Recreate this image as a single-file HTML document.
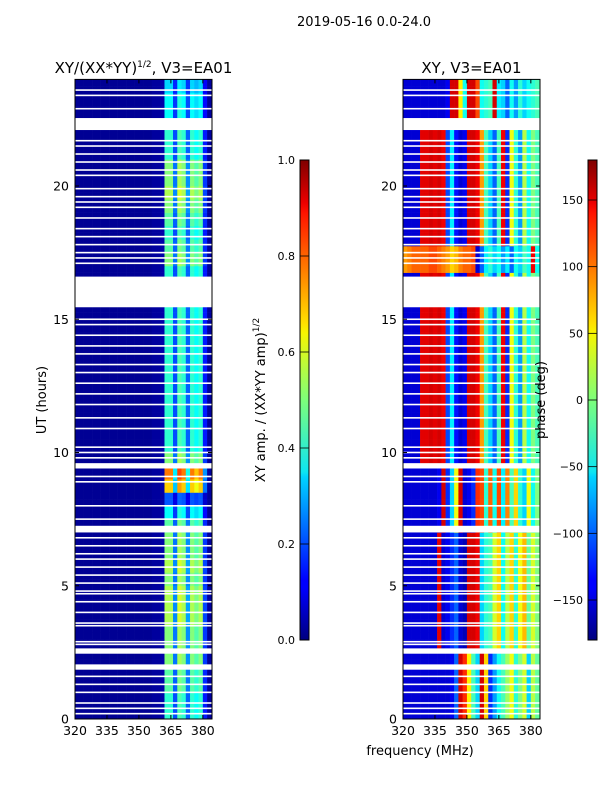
<!DOCTYPE html>
<html><head><meta charset="utf-8">
<style>
body{margin:0;background:#fff;width:600px;height:800px;overflow:hidden;font-family:"Liberation Sans","DejaVu Sans",sans-serif;}
svg text{font-family:"DejaVu Sans","Liberation Sans",sans-serif;}
</style></head>
<body>
<svg id="fig" width="600" height="800" xmlns="http://www.w3.org/2000/svg">
<defs>
<linearGradient id="jet" x1="0" y1="1" x2="0" y2="0">
<stop offset="0" stop-color="#00007f"/><stop offset="0.11" stop-color="#0000ff"/><stop offset="0.125" stop-color="#0000ff"/>
<stop offset="0.34" stop-color="#00d4ff"/><stop offset="0.35" stop-color="#0de5f2"/><stop offset="0.5" stop-color="#7dff7a"/>
<stop offset="0.64" stop-color="#f7f500"/><stop offset="0.66" stop-color="#ffe000"/><stop offset="0.89" stop-color="#ff1300"/>
<stop offset="0.91" stop-color="#ed0000"/><stop offset="1" stop-color="#7f0000"/>
</linearGradient>
</defs>
<text x="364" y="26" font-size="13" text-anchor="middle">2019-05-16 0.0-24.0</text>
<g id="amp"></g>
<g id="phs"></g>
<g id="axes"></g>
</svg>
<script>
const freqBins=[320,322,324,326,328,330,332,334,336,338,340,342,344,346,348,350,352,354,356,358,360,362,364,366,368,370,372,374,376,378,380,382];
const ampCols=[0.02,0.02,0.02,0.02,0.02,0.02,0.02,0.02,0.02,0.02,0.02,0.02,0.02,0.02,0.02,0.02,0.02,0.02,0.03,0.03,0.04,0.42,0.42,0.2,0.45,0.42,0.22,0.42,0.38,0.42,0.15,0.03];
const ampRowMod=[1.0,1.0,1.1,1.1,1.2,1.2,1.2,1.3,1.3,1.3,1.2,1.3,1.2,1.2,1.1,0.9,0.5,1.6,1.8,1.2,1.0,1.0,1.0,1.0,1.0,1.0,1.0,1.0,1.0,1.0,1.0,1.0,1.0,1.0,1.2,1.1,1.0,1.1,1.2,1.3,1.2,1.2,1.0,1.0,1.0,0.9,0.9,0.8];
const phaseSegStart=[0,2.5,7.0,9.5,16.6,17.6,22.5];
const phaseSegs=[
[-150,-150,-150,-150,-150,-150,-150,-150,-150,-150,-150,-140,-100,150,120,50,-20,-60,150,60,-120,-80,-40,-20,10,40,-30,0,30,-60,20,-10],
[-150,-150,-150,-150,-150,-150,-150,-150,145,-150,-140,-120,-100,-150,-160,150,150,140,-60,-30,-20,30,60,-40,20,60,-30,40,70,-10,30,0],
[-150,-150,-150,-150,-150,-150,-150,-150,-140,150,-120,-60,40,150,-150,-140,-120,120,110,-30,100,-40,110,-50,90,-20,60,-30,-60,40,-40,0],
[-150,-150,-150,-150,145,145,150,145,150,140,-110,-50,-130,-150,-140,150,150,140,80,-20,-60,-100,-20,140,-120,40,-30,-80,20,-40,0,-20],
[80,90,100,100,100,100,110,110,100,90,80,60,70,90,100,100,110,-150,-100,-50,-30,-60,-40,-80,-50,-100,-40,-60,-20,-40,140,-40],
[-150,-150,-150,-150,145,145,150,145,150,140,-110,-50,-130,-150,-140,150,150,140,80,-20,-60,-100,-20,140,-120,40,-30,-80,20,-40,0,-20],
[-150,-150,-150,-150,-150,-150,-150,-150,-150,-150,-140,150,150,50,-40,150,150,110,-40,-30,-20,150,-50,-60,-100,-40,-80,-30,-60,-40,-30,-20]];
const flagStart=[22.1,15.45,9.4,7.0,2.45,1.85];
const flagEnd=[22.55,16.6,9.6,7.25,2.65,2.05];
const thinFlags=[23.6,23.4,22.9,21.7,21.5,21.2,20.9,20.6,20.4,19.9,19.6,19.4,19.2,18.8,18.4,18.1,17.8,17.5,17.3,17.1,15.0,14.8,14.4,14.0,13.7,13.3,13.0,12.6,12.2,11.8,11.3,10.9,10.2,10.0,9.8,9.1,8.9,8.0,7.5,6.8,6.5,6.2,6.0,5.7,5.4,5.1,4.8,4.7,4.4,4.0,3.6,3.5,2.9,2.8,1.6,1.3,1.0,0.6,0.4,0.2];
const yTicks=[0,5,10,15,20];
const xTicks=[320,335,350,365,380];
const ampTicks=[0.0,0.2,0.4,0.6,0.8,1.0];
const phTicks=[-150,-100,-50,0,50,100,150];

const NS="http://www.w3.org/2000/svg";
function jet(v){v=Math.max(0,Math.min(1,v));
 const r=Math.min(4*v-1.5,-4*v+4.5),g=Math.min(4*v-0.5,-4*v+3.5),b=Math.min(4*v+0.5,-4*v+2.5);
 const c=x=>Math.round(255*Math.max(0,Math.min(1,x)));return `rgb(${c(r)},${c(g)},${c(b)})`;}
function mk(parent,tag,attrs){const e=document.createElementNS(NS,tag);for(const k in attrs)e.setAttribute(k,attrs[k]);parent.appendChild(e);return e;}
const Y0=719,Y1=79.4,H=24;
const yS=h=>Y0-(h/H)*(Y0-Y1);
function xS(px,f){return px+(f-320)*(137/64.3);}
function segIdx(h){let s=0;for(let i=0;i<phaseSegStart.length;i++)if(h>=phaseSegStart[i])s=i;return s;}
function drawMap(g,px,valFn){
 for(let r=0;r<96;r++){const h0=r*0.25,h1=h0+0.25;
  for(let c=0;c<freqBins.length;c++){
   const rc=mk(g,'rect',{x:xS(px,freqBins[c]).toFixed(2),y:yS(h1).toFixed(2),width:(137/64.3*2+0.3).toFixed(2),height:(yS(h0)-yS(h1)+0.3).toFixed(2),fill:valFn(r,c,h0)});
   
   
  }}
 for(let i=0;i<flagStart.length;i++){
  const f=mk(g,'rect',{x:px,y:yS(flagEnd[i]),width:137,height:yS(flagStart[i])-yS(flagEnd[i]),fill:'#fff'});
  
  
 }
 for(let i=0;i<thinFlags.length;i++){
  const f=mk(g,'rect',{x:px,y:yS(thinFlags[i])-0.8,width:137,height:1.6,fill:'#fff'});
  
  
 }
}
drawMap(document.getElementById('amp'),75,(r,c,h)=>{const m=ampRowMod[Math.min(47,Math.floor(h*2))];const base=ampCols[c];return jet(base<0.1?base:base*m);});
drawMap(document.getElementById('phs'),403,(r,c,h)=>jet((phaseSegs[segIdx(h)][c]+180)/360));

const ax=document.getElementById('axes');
function txt(x,y,s,attrs){const t=mk(ax,'text',Object.assign({x:x,y:y,'font-size':12.5},attrs||{}));t.textContent=s;return t;}
function panel(px,title,name){
 const fr=mk(ax,'rect',{x:px,y:Y1,width:137,height:Y0-Y1,fill:'none',stroke:'#000','stroke-width':1});
 
 
 for(const t of yTicks){const y=yS(t);
  mk(ax,'line',{x1:px,x2:px+4,y1:y,y2:y,stroke:'#000'});mk(ax,'line',{x1:px+137,x2:px+133,y1:y,y2:y,stroke:'#000'});
  const l=txt(px-6,y+4.5,String(t),{'text-anchor':'end'});
  
  }
 for(const t of xTicks){const x=xS(px,t);
  mk(ax,'line',{x1:x,x2:x,y1:Y0,y2:Y0-4,stroke:'#000'});mk(ax,'line',{x1:x,x2:x,y1:Y1,y2:Y1+4,stroke:'#000'});
  const l=txt(x,Y0+16,String(t),{'text-anchor':'middle'});
  
  }
 const tt=mk(ax,'text',{x:px+68.5,y:73,'font-size':15,'text-anchor':'middle'});tt.innerHTML=title;
 
 
}
panel(75,'XY/(XX*YY)<tspan font-size="9" dy="-6">1/2</tspan><tspan dy="6">, V3=EA01</tspan>','amplitude-panel');
panel(403,'XY, V3=EA01','phase-panel');
function cbar(x,ticks,lo,hi,fmt,name){
 const r=mk(ax,'rect',{x:x,y:160,width:9,height:480,fill:'url(#jet)',stroke:'#000','stroke-width':1});
 
 
 for(const t of ticks){const y=640-(t-lo)/(hi-lo)*480;
  mk(ax,'line',{x1:x,x2:x+9,y1:y,y2:y,stroke:'#000','stroke-width':0.8});
  const l=txt(x-5,y+4,fmt(t),{'text-anchor':'end','font-size':11});
  
  }
}
cbar(300,ampTicks,0,1,t=>t.toFixed(1),'amplitude-colorbar');
cbar(588,phTicks,-180,180,t=>(t<0?'\u2212'+(-t):String(t)),'phase-colorbar');
let l=txt(46,400,'UT (hours)',{'text-anchor':'middle','transform':'rotate(-90 46 400)','font-size':13});


l=txt(420,755,'frequency (MHz)',{'text-anchor':'middle','font-size':13});


l=mk(ax,'text',{x:265,y:400,'font-size':13,'text-anchor':'middle',transform:'rotate(-90 265 400)'});
l.innerHTML='XY amp. / (XX*YY amp)<tspan font-size="9" dy="-6">1/2</tspan>';


l=txt(545,400,'phase (deg)',{'text-anchor':'middle','transform':'rotate(-90 545 400)','font-size':13});


</script>
</body></html>
